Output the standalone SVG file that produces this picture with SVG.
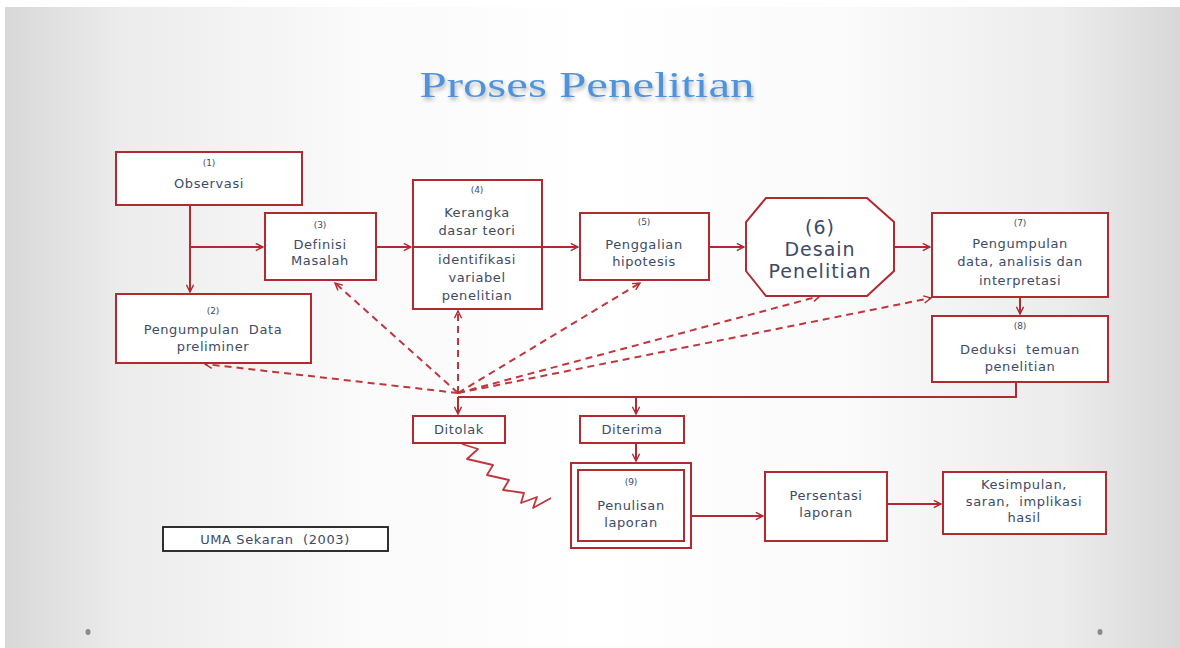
<svg xmlns="http://www.w3.org/2000/svg" width="1180" height="648" viewBox="0 0 1180 648">
<defs>
<linearGradient id="bg" x1="0" y1="0" x2="1" y2="0">
<stop offset="0" stop-color="#d8d8d8"/>
<stop offset="0.1" stop-color="#ececec"/>
<stop offset="0.3" stop-color="#fafafa"/>
<stop offset="0.5" stop-color="#ffffff"/>
<stop offset="0.72" stop-color="#fafafa"/>
<stop offset="0.9" stop-color="#ececec"/>
<stop offset="1" stop-color="#d8d8d8"/>
</linearGradient>
<marker id="ah" viewBox="0 0 10 10" refX="9" refY="5" markerWidth="9" markerHeight="9" markerUnits="userSpaceOnUse" orient="auto-start-reverse">
<path d="M1,1 L9,5 L1,9" fill="none" stroke="#b02a30" stroke-width="1.6"/>
</marker>
<filter id="sh" x="-5%" y="-20%" width="110%" height="160%">
<feGaussianBlur in="SourceAlpha" stdDeviation="2"/>
<feOffset dx="1" dy="3" result="b"/>
<feComponentTransfer><feFuncA type="linear" slope="0.3"/></feComponentTransfer>
<feMerge><feMergeNode/><feMergeNode in="SourceGraphic"/></feMerge>
</filter>
</defs>
<style>
.box{fill:#ffffff;stroke:#b02a30;stroke-width:2}
.t{font-family:"DejaVu Sans","Liberation Sans",sans-serif;font-size:13px;letter-spacing:0.6px;fill:#3e4a66;text-anchor:middle;white-space:pre}
.n{font-family:"DejaVu Sans","Liberation Sans",sans-serif;font-size:9px;fill:#3e4a66;text-anchor:middle}
.big{font-family:"DejaVu Sans","Liberation Sans",sans-serif;font-size:19px;letter-spacing:1px;fill:#3e4a66;text-anchor:middle}
.ln{fill:none;stroke:#b02a30;stroke-width:2}
.ds{fill:none;stroke:#c0363c;stroke-width:2;stroke-dasharray:7 5}
.title{font-family:"Liberation Serif","Times New Roman",serif;font-size:36px;fill:#4f93dc;text-anchor:middle}
</style>
<rect x="0" y="0" width="1180" height="648" fill="#ffffff"/>
<rect x="5" y="7" width="1175" height="641" fill="url(#bg)"/>
<text class="title" x="587" y="97" textLength="335" lengthAdjust="spacingAndGlyphs" filter="url(#sh)">Proses Penelitian</text>
<ellipse cx="88" cy="632" rx="2.5" ry="3" fill="#8a8a8a"/>
<ellipse cx="1100" cy="632" rx="2.5" ry="3" fill="#8a8a8a"/>

<g id="connectors">
<path class="ln" d="M190,205 V292" marker-end="url(#ah)"/>
<path class="ln" d="M190,247 H263" marker-end="url(#ah)"/>
<path class="ln" d="M376,247 H411" marker-end="url(#ah)"/>
<path class="ln" d="M542,247 H578" marker-end="url(#ah)"/>
<path class="ln" d="M709,247 H744" marker-end="url(#ah)"/>
<path class="ln" d="M893,247 H930" marker-end="url(#ah)"/>
<path class="ln" d="M1020,297 V314" marker-end="url(#ah)"/>
<path class="ln" d="M1016,382 V397 H458"/>
<path class="ln" d="M458,397 V414" marker-end="url(#ah)"/>
<path class="ln" d="M636,397 V414" marker-end="url(#ah)"/>
<path class="ln" d="M636,443 V461" marker-end="url(#ah)"/>
<path class="ln" d="M691,516 H763" marker-end="url(#ah)"/>
<path class="ln" d="M887,504 H941" marker-end="url(#ah)"/>
<path class="ds" d="M458,393 L205,364" marker-end="url(#ah)"/>
<path class="ds" d="M458,393 L335,283" marker-end="url(#ah)"/>
<path class="ds" d="M458,393 V311" marker-end="url(#ah)"/>
<path class="ds" d="M458,393 L640,283" marker-end="url(#ah)"/>
<path class="ds" d="M458,393 L820,296" marker-end="url(#ah)"/>
<path class="ds" d="M458,393 L931,298" marker-end="url(#ah)"/>
<polyline fill="none" stroke="#c0363c" stroke-width="1.8" stroke-linejoin="round" points="462,444 478,449 467,459 493,465 487,475 509,480 503,490 524,493 521,503 537,497 533,508 551,498"/>
</g>

<g id="n1"><rect class="box" x="116" y="152" width="186" height="53"/>
<text class="n" x="209" y="166">(1)</text><text class="t" x="209" y="188">Observasi</text></g>
<g id="n2"><rect class="box" x="116" y="294" width="195" height="69"/>
<text class="n" x="213" y="314">(2)</text><text class="t" x="213" y="334">Pengumpulan  Data</text><text class="t" x="213" y="351">preliminer</text></g>
<g id="n3"><rect class="box" x="265" y="213" width="111" height="67"/>
<text class="n" x="320" y="228">(3)</text><text class="t" x="320" y="249">Definisi</text><text class="t" x="320" y="265">Masalah</text></g>
<g id="n4"><rect class="box" x="413" y="180" width="129" height="129"/>
<line class="ln" x1="413" y1="247" x2="542" y2="247"/>
<text class="n" x="477" y="193">(4)</text><text class="t" x="477" y="217">Kerangka</text><text class="t" x="477" y="235">dasar teori</text>
<text class="t" x="477" y="264">identifikasi</text><text class="t" x="477" y="282">variabel</text><text class="t" x="477" y="300">penelitian</text></g>
<g id="n5"><rect class="box" x="580" y="213" width="129" height="67"/>
<text class="n" x="644" y="225">(5)</text><text class="t" x="644" y="249">Penggalian</text><text class="t" x="644" y="266">hipotesis</text></g>
<g id="n6"><polygon class="box" points="766,198 867,198 894,222 894,271 867,296 766,296 746,271 746,222"/>
<text class="big" x="820" y="234">(6)</text><text class="big" x="820" y="256">Desain</text><text class="big" x="820" y="278">Penelitian</text></g>
<g id="n7"><rect class="box" x="932" y="213" width="176" height="84"/>
<text class="n" x="1020" y="226">(7)</text><text class="t" x="1020" y="248">Pengumpulan</text><text class="t" x="1020" y="266">data, analisis dan</text><text class="t" x="1020" y="285">interpretasi</text></g>
<g id="n8"><rect class="box" x="932" y="316" width="176" height="66"/>
<text class="n" x="1020" y="329">(8)</text><text class="t" x="1020" y="354">Deduksi  temuan</text><text class="t" x="1020" y="371">penelitian</text></g>
<g id="n_ditolak"><rect class="box" x="413" y="416" width="92" height="27"/>
<text class="t" x="459" y="434">Ditolak</text></g>
<g id="n_diterima"><rect class="box" x="580" y="416" width="104" height="27"/>
<text class="t" x="632" y="434">Diterima</text></g>
<g id="n9"><rect class="box" x="571" y="463" width="120" height="85"/>
<rect class="box" x="578" y="470" width="106" height="71"/>
<text class="n" x="631" y="485">(9)</text><text class="t" x="631" y="510">Penulisan</text><text class="t" x="631" y="527">laporan</text></g>
<g id="n10"><rect class="box" x="765" y="472" width="122" height="69"/>
<text class="t" x="826" y="500">Persentasi</text><text class="t" x="826" y="517">laporan</text></g>
<g id="n11"><rect class="box" x="943" y="472" width="163" height="62"/>
<text class="t" x="1024" y="489">Kesimpulan,</text><text class="t" x="1024" y="506">saran,  implikasi</text><text class="t" x="1024" y="522">hasil</text></g>
<g id="n_src"><rect x="163" y="527" width="225" height="24" fill="#ffffff" stroke="#1a1a1a" stroke-width="1.8"/>
<text class="t" x="275" y="544">UMA Sekaran  (2003)</text></g>
</svg>
